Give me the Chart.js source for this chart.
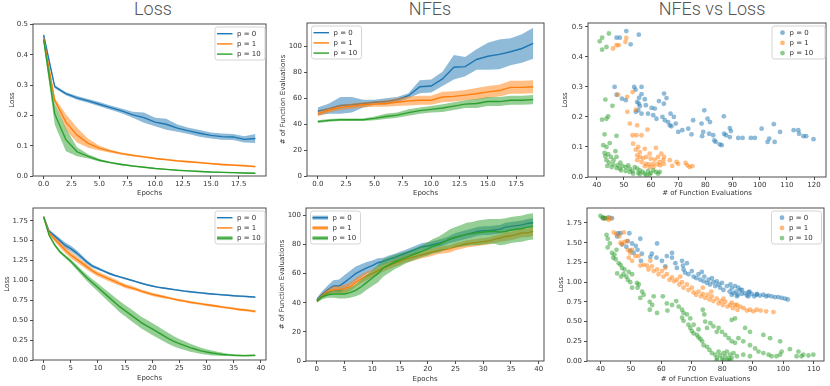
<!DOCTYPE html>
<html>
<head>
<meta charset="utf-8">
<script src="https://cdn.jsdelivr.net/npm/chart.js@4.4.1/dist/chart.umd.min.js"></script>
<style>
  body { margin: 0; background: #fff; }
  #wrap { position: relative; width: 830px; height: 386px; overflow: hidden; }
  canvas { position: absolute; }
  .ttl { position: absolute; width: 200px; text-align: center; top: 0px; font: 300 18px/18px Roboto, sans-serif; color: #555; }
</style>
</head>
<body>
<div id="wrap">
  <div class="ttl" style="left:53px">Loss</div>
  <div class="ttl" style="left:330px">NFEs</div>
  <div class="ttl" style="left:612px">NFEs vs Loss</div>
  <canvas id="c1"></canvas>
  <canvas id="c2"></canvas>
  <canvas id="c3"></canvas>
  <canvas id="c4"></canvas>
  <canvas id="c5"></canvas>
  <canvas id="c6"></canvas>
</div>
<script>
// series labels / colours
const seriesNames = ['p = 0', 'p = 1', 'p = 10'];
const colors = ['#1f77b4', '#ff7f0e', '#2ca02c'];

// ---- top row: 20 epochs ----
const epochsShort = [0,1,2,3,4,5,6,7,8,9,10,11,12,13,14,15,16,17,18,19];

const lossShortP0 = [0.465,0.295,0.272,0.258,0.248,0.237,0.226,0.215,0.202,0.193,0.178,0.171,0.158,0.149,0.141,0.134,0.130,0.129,0.121,0.124];
const lossShortP0Band = [0.012,0.005,0.005,0.006,0.006,0.007,0.007,0.008,0.010,0.017,0.014,0.018,0.012,0.010,0.011,0.010,0.010,0.010,0.010,0.015];
const lossShortP1 = [0.455,0.250,0.178,0.135,0.108,0.092,0.082,0.074,0.068,0.063,0.058,0.054,0.050,0.047,0.044,0.041,0.038,0.036,0.034,0.031];
const lossShortP1Band = [0.010,0.008,0.026,0.024,0.015,0.008,0.005,0.004,0.004,0.003,0.003,0.003,0.003,0.003,0.003,0.003,0.003,0.003,0.003,0.003];
const lossShortP10 = [0.450,0.205,0.120,0.080,0.065,0.052,0.044,0.038,0.033,0.029,0.025,0.022,0.019,0.017,0.015,0.013,0.012,0.011,0.010,0.009];
const lossShortP10Band = [0.010,0.035,0.038,0.015,0.007,0.004,0.003,0.003,0.002,0.002,0.002,0.002,0.002,0.002,0.002,0.002,0.002,0.002,0.002,0.002];

const nfeShortP0 = [50,52,54.5,55,56,57,57.5,59,62,69,69.5,75,84,84.5,90,92.5,94,96,98.5,102.5];
const nfeShortP0Band = [3,4,6.5,6,3,2,2.5,2,2,5,5,5.5,9.5,7.5,8,10.5,11.5,10.5,11,12];
const nfeShortP1 = [48,51,53,54,55,55.5,56,57,58,58.5,58.5,61,61.5,62.5,63.5,65,66,68.5,68.5,69];
const nfeShortP1Band = [2,2,2,2,2,2,2.5,3,3.5,3.5,3.5,4,4,4,4.5,4.5,4.5,5,5,5];
const nfeShortP10 = [42,43,43.5,43.5,43.5,44.5,46,47,49,50.5,51.5,52.5,54,55.5,56,57.5,57.5,58.5,58.5,59];
const nfeShortP10Band = [1,1,1,1,1,1.5,2,2,2.5,2.5,2.5,3,3,3,3.5,3.5,3.5,3.5,3.5,3.5];

// NFEs vs Loss, top row: [nfe, loss]
const scatterShortP0 = [[47.3,.464],[48.5,.464],[50.9,.486],[52.5,.442],[55.5,.474],
  [46.6,.30],[47.3,.274],[49.3,.261],[50.7,.256],[53.8,.30],[54.3,.291],[56.5,.30],[55.6,.264],[56.5,.276],[57.7,.259],
  [54.9,.25],[55.5,.244],[55.9,.236],[55.3,.222],[54.4,.217],[56.5,.211],[58.9,.211],[58.1,.239],[60.2,.23],[61.4,.228],
  [60.8,.206],[62.0,.194],[62.9,.253],[64.8,.278],[65.7,.263],[64.7,.244],[64.2,.20],[65.1,.189],[66.3,.183],[66.9,.172],
  [67.5,.169],[67.2,.211],[68.4,.20],[69.1,.178],[70.0,.15],[71.5,.156],[73.7,.161],[74.9,.142],[75.5,.189],[78.6,.178],
  [78.8,.136],[79.2,.15],[79.6,.222],[80.8,.194],[81.7,.183],[81.4,.144],[82.9,.139],[83.3,.122],[83.8,.117],[85.3,.109],
  [86.0,.106],[86.8,.202],[86.9,.144],[87.6,.139],[89.0,.163],[89.4,.153],[89.0,.133],[92.1,.13],[93.7,.13],[96.7,.13],
  [98.2,.13],[100.7,.161],[102.9,.117],[103.5,.128],[105.2,.176],[105.5,.117],[107.5,.15],[112.5,.156],[114.2,.156],
  [114.5,.144],[116.1,.136],[117.1,.136],[119.8,.126]];
const scatterShortP1 = [[46.0,.428],[47.3,.439],[48.1,.439],[50.6,.45],[50.9,.463],
  [47.9,.274],[51.2,.267],[53.2,.283],[54.4,.224],[51.3,.217],[52.2,.178],[54.9,.172],[53.2,.139],[54.6,.139],[56.5,.139],
  [58.7,.158],[55.3,.10],[53.4,.111],[54.4,.091],[55.9,.083],[57.7,.094],[59.5,.078],[61.8,.097],[63.8,.078],[54.9,.072],
  [55.9,.067],[57.1,.063],[58.3,.067],[59.9,.061],[61.4,.058],[62.6,.067],[64.8,.067],[54.9,.056],[56.5,.05],[58.1,.044],
  [59.3,.042],[60.8,.044],[62.3,.042],[63.2,.05],[64.5,.056],[63.4,.039],[64.7,.044],[66.9,.056],[69.4,.05],[70.0,.044],
  [67.8,.037],[72.7,.047],[73.4,.039],[74.2,.033],[75.2,.036],[60.9,.033],[59.5,.033],[57.7,.036]];
const scatterShortP10 = [[41.1,.452],[42.0,.464],[44.5,.478],[42.0,.424],[43.6,.433],
  [43.2,.258],[45.8,.237],[44.2,.202],[43.6,.194],[42.0,.191],[42.9,.142],[47.3,.137],[44.8,.113],[42.4,.106],[43.6,.10],
  [46.9,.086],[42.9,.08],[44.2,.076],[43.2,.069],[45.2,.067],[47.3,.067],[48.7,.048],[43.6,.056],[44.6,.048],[46.1,.042],
  [43.9,.037],[45.5,.033],[47.3,.03],[48.5,.028],[49.5,.037],[50.7,.033],[51.6,.039],[52.2,.028],[53.2,.02],[54.0,.033],
  [54.9,.028],[55.9,.022],[52.2,.017],[53.4,.011],[55.3,.013],[56.9,.017],[57.7,.011],[58.9,.02],[59.9,.013],[60.8,.022],
  [61.8,.017],[62.6,.011],[63.2,.017],[59.5,.008],[58.3,.006],[55.9,.009],[50.7,.02],[49.0,.022],[47.8,.039],[46.2,.056]];

// ---- bottom row: 40 epochs ----
const epochsLong = [0,1,2,3,4,5,6,7,8,9,10,11,12,13,14,15,16,17,18,19,20,21,22,23,24,25,26,27,28,29,30,31,32,33,34,35,36,37,38,39];

const lossLongP0 = [1.80,1.62,1.56,1.50,1.44,1.40,1.35,1.29,1.23,1.18,1.15,1.12,1.09,1.065,1.045,1.025,1.005,0.985,0.965,0.945,
  0.93,0.915,0.905,0.895,0.885,0.875,0.865,0.857,0.85,0.843,0.836,0.83,0.824,0.818,0.813,0.808,0.803,0.799,0.795,0.79];
const lossLongP0Band = [0.01,0.02,0.025,0.03,0.035,0.035,0.035,0.03,0.025,0.02,0.02,0.015,0.015,0.012,0.012,0.012,0.01,0.01,0.01,0.01,
  0.01,0.01,0.01,0.01,0.01,0.01,0.01,0.01,0.01,0.01,0.01,0.01,0.01,0.01,0.01,0.01,0.01,0.01,0.01,0.01];
const lossLongP1 = [1.80,1.60,1.52,1.45,1.38,1.32,1.27,1.22,1.17,1.12,1.08,1.05,1.02,0.99,0.96,0.93,0.91,0.89,0.865,0.845,
  0.825,0.81,0.795,0.78,0.765,0.75,0.74,0.725,0.715,0.705,0.695,0.685,0.675,0.665,0.655,0.645,0.635,0.628,0.62,0.61];
const lossLongP1Band = [0.01,0.02,0.03,0.035,0.04,0.04,0.04,0.035,0.035,0.03,0.03,0.03,0.03,0.03,0.025,0.025,0.025,0.02,0.02,0.02,
  0.02,0.02,0.02,0.015,0.015,0.015,0.015,0.015,0.015,0.015,0.015,0.015,0.015,0.015,0.015,0.015,0.015,0.015,0.015,0.015];
const lossLongP10 = [1.80,1.57,1.45,1.36,1.30,1.24,1.17,1.10,1.03,0.97,0.91,0.85,0.79,0.73,0.67,0.62,0.57,0.52,0.47,0.43,
  0.39,0.35,0.31,0.27,0.235,0.205,0.18,0.155,0.135,0.115,0.10,0.088,0.078,0.07,0.065,0.06,0.057,0.055,0.056,0.058];
const lossLongP10Band = [0.01,0.015,0.02,0.02,0.02,0.025,0.03,0.035,0.04,0.045,0.05,0.055,0.06,0.065,0.07,0.07,0.075,0.075,0.075,0.075,
  0.075,0.075,0.07,0.07,0.065,0.06,0.055,0.05,0.045,0.04,0.035,0.03,0.025,0.02,0.015,0.012,0.01,0.01,0.01,0.01];

const nfeLongP0 = [42,46,49,51.5,51.5,54,57,60,62,64,65.5,67.5,68.5,70,71,72.5,74,75.5,77,78.5,
  79,80,81,82,83.5,85,86,87,88,89,89.5,89.5,90,90.5,92,92.5,93,93.5,94.5,95];
const nfeLongP0Band = [1.5,2,3,4,4.5,5,5,5,4.5,4,3.5,3,2.5,2.5,2.5,2.5,2.5,2.5,2.5,2.5,
  2.5,2.5,2.5,2.5,2.5,3,3,3,3,3,3,3,3,3,3,3,3,3,3,3];
const nfeLongP1 = [41,45,47.5,49,49,49.5,51,54,56.5,58.5,60,62,64,65.5,67,68.5,70,71,72,73,
  74,75,76,76.5,77,78.5,79.5,80.5,81,81.5,82,82.5,83.5,84.5,85.5,86,87,88,88,89];
const nfeLongP1Band = [1,1.5,2,2.5,2.5,3,3,3,3,3,2.5,2.5,2.5,2.5,2.5,2.5,2.5,2.5,2.5,2.5,
  2.5,2.5,2.5,2.5,2.5,2.5,2.5,2.5,2.5,2.5,2.5,2.5,2.5,2.5,3,3,3,3,3,3];
const nfeLongP10 = [41,44,45.5,46,46,46,47,48.5,51,54,57,60,64,66,68,69.5,71,72.5,74,75.5,
  77,79,80,82,84,85,86,87,87.5,88,88.5,89,89,88.5,89,90,90.5,91,92,92.5];
const nfeLongP10Band = [1,1.5,2,2.5,3,3,3.5,4,5,5,5.5,6,6,5.5,5,4.5,4,4,4,4,
  4.5,5,5.5,6,6.5,7,7.5,8,8,8.5,8.5,8.5,8.5,9,9,9,9,9,9,9];

// NFEs vs Loss, bottom row: [nfe, loss]
const scatterLongP0 = [[40.8,1.81],[41.6,1.81],[42.7,1.82],[43.8,1.81],[45.8,1.62],[46.6,1.62],[45.5,1.58],[49.5,1.62],
  [47.1,1.48],[49.0,1.52],[48.5,1.45],[50.4,1.49],[51.6,1.46],[53.1,1.55],[52.2,1.41],[49.8,1.40],[50.9,1.37],[53.6,1.36],
  [53.3,1.27],[56.4,1.32],[56.9,1.36],[58.6,1.49],[58.4,1.31],[60.2,1.27],[61.3,1.20],[63.5,1.37],[63.5,1.31],[65.1,1.18],
  [66.8,1.27],[67.1,1.21],[67.3,1.16],[67.8,1.12],[68.9,1.10],[70.0,1.14],[70.6,1.07],[71.5,1.05],[72.2,1.10],[72.8,1.03],
  [73.9,1.01],[74.1,1.07],[75.0,0.99],[75.5,1.03],[76.0,0.97],[77.1,1.00],[77.7,0.95],[78.8,0.97],[79.3,0.93],[79.9,0.99],
  [80.4,0.90],[81.5,0.95],[82.4,0.88],[83.1,0.92],[83.7,0.86],[84.6,0.88],[85.1,0.84],[85.9,0.90],[86.4,0.85],[87.5,0.86],
  [88.1,0.83],[88.9,0.88],[89.7,0.85],[90.5,0.82],[91.3,0.84],[92.4,0.83],[93.5,0.84],[94.4,0.82],[95.1,0.83],[96.2,0.82],
  [97.3,0.81],[98.4,0.81],[99.5,0.80],[100.6,0.79],[101.5,0.78],[84.2,0.95],[85.3,0.93],[82.7,0.97],[78.2,1.01],[76.6,1.05],
  [73.3,1.13],[68.4,1.24],[61.8,1.33],[64.6,1.24],[86.5,0.90],[88.7,0.87],[91.4,0.85],[88.6,0.82],[84.8,0.82],[83.1,0.84]];
const scatterLongP1 = [[41.1,1.81],[42.2,1.81],[43.3,1.81],[42.7,1.79],[44.4,1.63],[45.2,1.61],[46.2,1.58],[47.1,1.48],
  [47.9,1.51],[48.7,1.52],[49.0,1.41],[49.8,1.37],[49.3,1.31],[50.4,1.27],[51.5,1.33],[53.1,1.21],[54.2,1.22],[55.3,1.21],
  [55.8,1.16],[56.9,1.20],[57.5,1.14],[58.6,1.16],[59.1,1.10],[60.2,1.14],[60.7,1.07],[61.8,1.10],[62.7,1.03],[63.5,1.06],
  [64.2,1.01],[65.1,1.03],[65.9,0.97],[66.8,1.00],[67.3,0.93],[68.4,0.97],[68.9,0.90],[70.0,0.93],[70.6,0.87],[71.4,0.84],
  [72.2,0.88],[73.0,0.82],[73.6,0.85],[74.4,0.80],[75.2,0.84],[75.8,0.78],[76.6,0.82],[77.1,0.76],[78.2,0.79],[78.8,0.73],
  [79.5,0.76],[80.2,0.71],[81.0,0.75],[81.7,0.69],[82.6,0.71],[83.5,0.67],[84.2,0.71],[85.0,0.65],[85.9,0.69],[87.0,0.67],
  [88.1,0.64],[89.1,0.65],[90.2,0.63],[91.3,0.65],[92.6,0.64],[94.4,0.63],[96.8,0.62],[84.8,0.71],[83.1,0.74],[80.4,0.79],
  [76.4,0.88],[73.6,0.93],[66.2,1.07],[61.3,1.18],[56.4,1.27],[52.5,1.33],[50.4,1.41],[46.6,1.50],[47.7,1.63]];
const scatterLongP10 = [[40.0,1.84],[40.8,1.82],[41.4,1.81],[42.0,1.60],[42.4,1.55],[43.1,1.49],[42.4,1.44],[43.8,1.37],
  [44.6,1.35],[44.2,1.31],[45.0,1.29],[45.3,1.41],[46.0,1.24],[46.6,1.22],[47.1,1.18],[47.9,1.16],[45.5,1.11],[46.8,1.07],
  [47.6,1.10],[48.5,1.07],[49.3,1.13],[49.0,1.03],[50.4,1.10],[49.8,1.00],[52.0,0.99],[52.6,0.97],[50.4,0.93],[52.2,0.93],
  [53.7,0.88],[54.2,0.84],[53.1,0.80],[56.2,0.75],[57.0,0.71],[56.2,0.65],[58.6,0.61],[57.5,0.82],[60.5,0.82],[61.8,0.73],
  [63.5,0.71],[64.9,0.76],[65.7,0.69],[62.0,0.64],[66.8,0.65],[67.3,0.61],[66.8,0.55],[67.3,0.51],[68.4,0.59],[68.9,0.46],
  [69.5,0.42],[70.0,0.38],[70.6,0.35],[71.7,0.33],[72.2,0.30],[72.8,0.28],[73.6,0.65],[74.1,0.59],[74.4,0.50],[75.0,0.42],
  [76.1,0.48],[77.1,0.44],[78.2,0.37],[73.4,0.25],[73.9,0.20],[75.0,0.18],[75.8,0.14],[76.6,0.10],[77.7,0.08],[78.2,0.04],
  [78.8,0.12],[79.3,0.07],[79.9,0.03],[80.4,0.10],[81.0,0.06],[81.5,0.12],[82.1,0.03],[82.6,0.08],[83.1,0.04],[83.7,0.10],
  [78.8,0.42],[79.9,0.37],[81.0,0.33],[82.1,0.29],[83.1,0.25],[84.2,0.23],[84.8,0.06],[85.3,0.29],[86.9,0.25],[89.1,0.20],
  [90.8,0.16],[91.9,0.12],[93.5,0.10],[95.2,0.08],[96.2,0.06],[86.9,0.08],[89.1,0.06],[83.1,0.52],[84.2,0.54],[87.5,0.42],
  [89.1,0.37],[93.5,0.33],[95.7,0.29],[99.0,0.25],[102.2,0.15],[105.0,0.12],[106.6,0.08],[108.3,0.07],[109.9,0.08],[104.4,0.06],
  [106.0,0.06],[97.8,0.06],[99.0,0.08],[99.5,0.12],[80.4,0.01],[81.5,0.01],[78.2,0.01],[82.6,0.01],[70.6,0.46],[72.2,0.40],[69.5,0.54]];

// tick labels
const ticksEpochShort = [0,2.5,5,7.5,10,12.5,15,17.5];
const ticksEpochLong = [0,5,10,15,20,25,30,35,40];
const ticksLossShort = [0,0.1,0.2,0.3,0.4,0.5];
const ticksLossLong = [0,0.25,0.5,0.75,1,1.25,1.5,1.75];
const ticksNfe = [0,20,40,60,80,100];
const ticksNfeX = [40,50,60,70,80,90,100,110,120];
const ticksNfeXLong = [40,50,60,70,80,90,100,110];

Chart.defaults.font.family = '"DejaVu Sans", sans-serif';
Chart.defaults.font.size = 7;
Chart.defaults.color = '#333';
const INK = '#3a3a3a';

// spines + matplotlib style legend
const framePlugin = {
  id: 'frame',
  afterDatasetsDraw(chart) {
    const a = chart.chartArea, ctx = chart.ctx;
    ctx.save();
    ctx.strokeStyle = INK;
    ctx.lineWidth = 0.9;
    ctx.strokeRect(a.left, a.top, a.right - a.left, a.bottom - a.top);
    ctx.restore();
  },
  afterDraw(chart) {
    const o = chart.options.plugins.frame;
    if (!o || !o.legend) return;
    const lg = o.legend, ctx = chart.ctx, a = chart.chartArea;
    const w = lg.width, h = 33;
    const x = lg.side === 'left' ? a.left + 4 : a.right - w - lg.gap;
    const y = a.top + 2.5;
    ctx.save();
    ctx.beginPath();
    ctx.roundRect(x + 0.5, y + 0.5, w, h, 2.5);
    ctx.fillStyle = 'rgba(255,255,255,0.85)';
    ctx.fill();
    ctx.strokeStyle = '#d4d4d4';
    ctx.lineWidth = 1;
    ctx.stroke();
    ctx.font = '7px "DejaVu Sans"';
    ctx.textBaseline = 'middle';
    seriesNames.forEach((name, i) => {
      const cy = y + 7.2 + i * 10.2;
      if (lg.kind === 'line') {
        if (lg.patch && lg.patch[i]) {
          ctx.globalAlpha = 0.5;
          ctx.fillStyle = colors[i];
          ctx.fillRect(x + 2.5, cy - 2, 15.5, 4);
          ctx.globalAlpha = 1;
        }
        ctx.strokeStyle = colors[i];
        ctx.lineWidth = 1.4;
        ctx.beginPath();
        ctx.moveTo(x + 2.5, cy);
        ctx.lineTo(x + 18, cy);
        ctx.stroke();
        ctx.fillStyle = '#333';
        ctx.fillText(name, x + 22.5, cy + 0.5);
      } else {
        ctx.globalAlpha = 0.55;
        ctx.fillStyle = colors[i];
        ctx.beginPath();
        ctx.arc(x + 11, cy, 2.4, 0, Math.PI * 2);
        ctx.fill();
        ctx.globalAlpha = 1;
        ctx.fillStyle = '#333';
        ctx.fillText(name, x + 18, cy + 0.5);
      }
    });
    ctx.restore();
  }
};

function fmt(digits) {
  return v => Number(v).toFixed(digits);
}

function axis(min, max, ticks, digits, title, titlePad, size, isX) {
  return {
    type: 'linear',
    min: min,
    max: max,
    afterBuildTicks: s => { s.ticks = ticks.map(v => ({ value: v })); },
    afterFit: s => { if (isX) s.height = size; else s.width = size; },
    grid: { drawOnChartArea: false, drawTicks: true, tickLength: 3, color: INK, lineWidth: 0.9 },
    border: { display: false },
    ticks: { autoSkip: false, maxRotation: 0, padding: isX ? 1 : 2, color: '#333', callback: fmt(digits) },
    title: { display: true, text: title, color: '#333', padding: isX ? { top: 0, bottom: titlePad } : { top: titlePad, bottom: 0 } }
  };
}

function bandSets(xs, mean, band, color) {
  return [
    { data: xs.map((x, i) => ({ x: x, y: mean[i] - band[i] })), borderWidth: 0, pointRadius: 0, fill: false },
    { data: xs.map((x, i) => ({ x: x, y: mean[i] + band[i] })), borderWidth: 0, pointRadius: 0, fill: '-1', backgroundColor: color + '80' },
    { data: xs.map((x, i) => ({ x: x, y: mean[i] })), borderColor: color, borderWidth: 1.4, pointRadius: 0, fill: false, tension: 0 }
  ];
}

function dotSet(pts, color) {
  return { data: pts.map(p => ({ x: p[0], y: p[1] })), backgroundColor: color + '80', borderWidth: 0, pointRadius: 2.4 };
}

// p: { id, box:[left,top,w,h], plot:[l,t,r,b], yTitleX, xTitleY, ... }
function makePanel(p) {
  const [bl, bt, bw, bh] = p.box;
  const [l, t, r, b] = p.plot;
  const lh = 7 * 1.2;
  const cv = document.getElementById(p.id);
  cv.style.left = bl + 'px';
  cv.style.top = bt + 'px';
  cv.width = bw;
  cv.height = bh;
  const ds = p.datasets;
  ds.forEach((d, i) => { d.order = -i; });
  new Chart(cv, {
    type: p.type,
    data: { datasets: ds },
    options: {
      responsive: false,
      animation: false,
      devicePixelRatio: 1,
      layout: { padding: { left: 0, top: t - bt, right: bl + bw - r, bottom: 0 } },
      plugins: { legend: { display: false }, tooltip: { enabled: false }, frame: { legend: p.legend } },
      scales: {
        x: axis(p.x[0], p.x[1], p.xTicks, p.xDigits, p.xTitle, bt + bh - p.xTitleY - lh / 2, bt + bh - b, true),
        y: axis(p.y[0], p.y[1], p.yTicks, p.yDigits, p.yTitle, p.yTitleX - bl - lh / 2, l - bl, false)
      }
    },
    plugins: [framePlugin]
  });
}

makePanel({
  id: 'c1', type: 'line', box: [0, 0, 276, 200], plot: [33, 24, 266, 176], yTitleX: 11.7, xTitleY: 193.3,
  x: [-0.95, 19.95], xTicks: ticksEpochShort, xDigits: 1, xTitle: 'Epochs',
  y: [0, 0.502], yTicks: ticksLossShort, yDigits: 1, yTitle: 'Loss',
  legend: { kind: 'line', side: 'right', width: 50, gap: 1.5 },
  datasets: [].concat(
    bandSets(epochsShort, lossShortP0, lossShortP0Band, colors[0]),
    bandSets(epochsShort, lossShortP1, lossShortP1Band, colors[1]),
    bandSets(epochsShort, lossShortP10, lossShortP10Band, colors[2]))
});

makePanel({
  id: 'c2', type: 'line', box: [277, 0, 277, 200], plot: [307, 23, 544, 176], yTitleX: 283.3, xTitleY: 193.3,
  x: [-0.95, 19.95], xTicks: ticksEpochShort, xDigits: 1, xTitle: 'Epochs',
  y: [0, 118.2], yTicks: ticksNfe, yDigits: 0, yTitle: '# of Function Evaluations',
  legend: { kind: 'line', side: 'left', width: 50, gap: 0 },
  datasets: [].concat(
    bandSets(epochsShort, nfeShortP0, nfeShortP0Band, colors[0]),
    bandSets(epochsShort, nfeShortP1, nfeShortP1Band, colors[1]),
    bandSets(epochsShort, nfeShortP10, nfeShortP10Band, colors[2]))
});

makePanel({
  id: 'c3', type: 'scatter', box: [555, 0, 275, 200], plot: [588, 23, 826, 177], yTitleX: 565, xTitleY: 193.3,
  x: [36.8, 124.4], xTicks: ticksNfeX, xDigits: 0, xTitle: '# of Function Evaluations',
  y: [0, 0.513], yTicks: ticksLossShort, yDigits: 1, yTitle: 'Loss',
  legend: { kind: 'dot', side: 'right', width: 53, gap: 1.5 },
  datasets: [dotSet(scatterShortP0, colors[0]), dotSet(scatterShortP1, colors[1]), dotSet(scatterShortP10, colors[2])]
});

makePanel({
  id: 'c4', type: 'line', box: [0, 200, 276, 186], plot: [33, 208, 266, 360], yTitleX: 6.7, xTitleY: 377.7,
  x: [-1.95, 40.95], xTicks: ticksEpochLong, xDigits: 0, xTitle: 'Epochs',
  y: [0, 1.91], yTicks: ticksLossLong, yDigits: 2, yTitle: 'Loss',
  legend: { kind: 'line', side: 'right', width: 50, gap: 1.5, patch: [false, false, true] },
  datasets: [].concat(
    bandSets(epochsLong, lossLongP0, lossLongP0Band, colors[0]),
    bandSets(epochsLong, lossLongP1, lossLongP1Band, colors[1]),
    bandSets(epochsLong, lossLongP10, lossLongP10Band, colors[2]))
});

makePanel({
  id: 'c5', type: 'line', box: [277, 200, 277, 186], plot: [306, 208, 544, 361], yTitleX: 281.7, xTitleY: 379,
  x: [-1.95, 40.95], xTicks: ticksEpochLong, xDigits: 0, xTitle: 'Epochs',
  y: [0, 105.1], yTicks: ticksNfe, yDigits: 0, yTitle: '# of Function Evaluations',
  legend: { kind: 'line', side: 'left', width: 50, gap: 0, patch: [true, true, true] },
  datasets: [].concat(
    bandSets(epochsLong, nfeLongP0, nfeLongP0Band, colors[0]),
    bandSets(epochsLong, nfeLongP1, nfeLongP1Band, colors[1]),
    bandSets(epochsLong, nfeLongP10, nfeLongP10Band, colors[2]))
});

makePanel({
  id: 'c6', type: 'scatter', box: [555, 200, 275, 186], plot: [587, 208, 824, 361], yTitleX: 561, xTitleY: 379,
  x: [35.6, 113.4], xTicks: ticksNfeXLong, xDigits: 0, xTitle: '# of Function Evaluations',
  y: [0, 1.94], yTicks: ticksLossLong, yDigits: 2, yTitle: 'Loss',
  legend: { kind: 'dot', side: 'right', width: 50, gap: 3 },
  datasets: [dotSet(scatterLongP0, colors[0]), dotSet(scatterLongP1, colors[1]), dotSet(scatterLongP10, colors[2])]
});
</script>
</body>
</html>
